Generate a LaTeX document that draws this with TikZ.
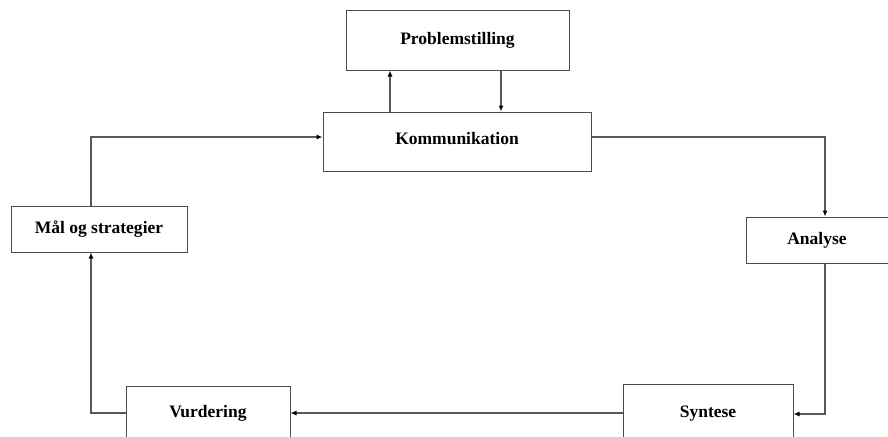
\documentclass[tikz,border=0pt]{standalone}
\usepackage{fontspec}
\setmainfont{Liberation Serif}
\usetikzlibrary{arrows.meta}
\begin{document}
\begin{tikzpicture}[x=1pt,y=-1pt,
  stagebox/.style={draw=black!70, line width=1pt, fill=white, inner sep=0pt,
    font=\fontsize{17.5}{20}\selectfont\bfseries},
  flow/.style={draw=black!65, line width=1.1pt, -{Latex[length=6pt,width=5pt,color=black]}}]
\useasboundingbox (0,0) rectangle (888,436);
\clip (0,0) rectangle (888,436);
\fill[white] (0,0) rectangle (888,436);
% stage boxes (corner coordinates in pixels)
\node[stagebox, minimum width=223pt, minimum height=59pt] (prob) at (457.5,40.5) {Problemstilling};
\node[stagebox, minimum width=268pt, minimum height=59pt, text depth=6pt] (komm) at (457,141.5) {Kommunikation};
\node[stagebox, minimum width=176pt, minimum height=46pt] (maal) at (99,229) {Mål og strategier};
\node[stagebox, minimum width=142pt, minimum height=46pt] (anal) at (817,240) {Analyse};
\node[stagebox, minimum width=164pt, minimum height=64pt, text depth=14pt] (vurd) at (208,418) {Vurdering};
\node[stagebox, minimum width=170pt, minimum height=64pt, text depth=8pt] (synt) at (708,416) {Syntese};
% links between Kommunikation and Problemstilling
\draw[flow] (komm.north -| 390,0) -- (prob.south -| 390,0);
\draw[flow] (prob.south -| 501,0) -- (komm.north -| 501,0);
% outer cycle
\coordinate (kr) at (825,137);
\coordinate (sr) at (825,414);
\coordinate (vl) at (91,413);
\coordinate (ml) at (91,137);
\draw[flow] (komm.east |- kr) -- (kr) -- (anal.north -| kr);
\draw[flow] (anal.south -| sr) -- (sr) -- (synt.east |- sr);
\draw[flow] (synt.west |- 0,413) -- (vurd.east |- 0,413);
\draw[flow] (vurd.west |- vl) -- (vl) -- (maal.south -| vl);
\draw[flow] (maal.north -| ml) -- (ml) -- (komm.west |- ml);
\end{tikzpicture}
\end{document}
